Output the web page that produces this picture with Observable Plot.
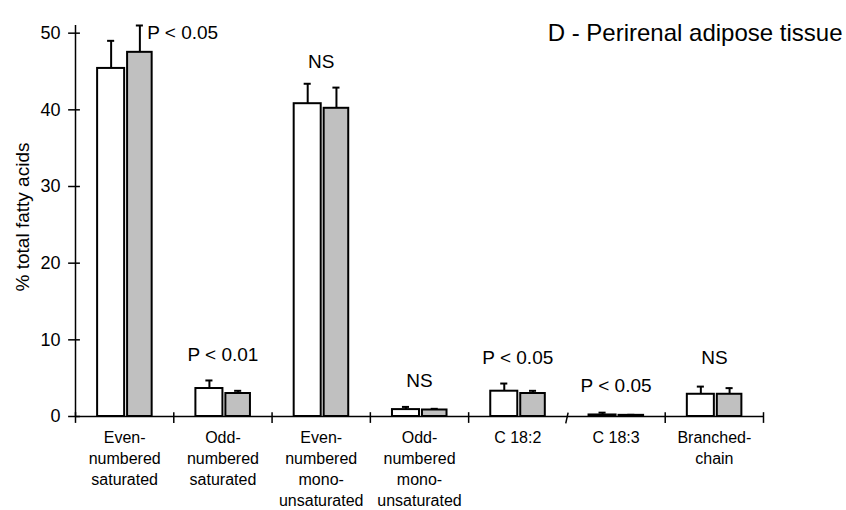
<!DOCTYPE html>
<html>
<head>
<meta charset="utf-8">
<script src="https://cdn.jsdelivr.net/npm/d3@7"></script>
<script src="https://cdn.jsdelivr.net/npm/@observablehq/plot@0.6"></script>
<style>
  html, body { margin: 0; padding: 0; background: #fff; }
  #chart svg { display: block; }
</style>
</head>
<body>
<div id="chart"></div>
<script>
const title = "D - Perirenal adipose tissue";
const yLabel = "% total fatty acids";
const categories = [
  "Even-\nnumbered\nsaturated",
  "Odd-\nnumbered\nsaturated",
  "Even-\nnumbered\nmono-\nunsaturated",
  "Odd-\nnumbered\nmono-\nunsaturated",
  "C 18:2",
  "C 18:3",
  "Branched-\nchain"
];
// white bars (group 1) and grey bars (group 2): mean and mean + error
const whiteMean = [45.4, 3.65, 40.8, 0.9, 3.3, 0.2, 2.9];
const whiteErr  = [49.0, 4.7, 43.4, 1.25, 4.3, 0.5, 3.9];
const greyMean  = [47.5, 3.0, 40.2, 0.85, 3.0, 0.15, 2.9];
const greyErr   = [51.0, 3.35, 42.9, 1.0, 3.35, 0.22, 3.7];
const significance = ["P < 0.05", "P < 0.01", "NS", "NS", "P < 0.05", "P < 0.05", "NS"];
const significanceY = [50.0, 8.0, 46.2, 4.7, 7.6, 4.0, 7.6];
const yTicks = [0, 10, 20, 30, 40, 50];
const boundaries = [0, 1, 2, 3, 4, 6, 7];
const brokenBoundary = [5];

const idx = d3.range(categories.length);
const W = [0.225, 0.5], G = [0.53, 0.78];
const cw = (W[0] + W[1]) / 2, cg = (G[0] + G[1]) / 2, cap = 0.036;

const chart = Plot.plot({
  width: 846,
  height: 510,
  marginLeft: 75,
  marginRight: 83,
  marginTop: 25,
  marginBottom: 94,
  style: { fontFamily: "'Liberation Sans', Arial, sans-serif", background: "#fff", color: "#000" },
  x: { domain: [0, 7], axis: null },
  y: { domain: [0, 51], axis: null },
  marks: [
    // y tick labels
    Plot.text(yTicks, { x: 0, y: d => d, text: d => String(d), textAnchor: "end", dx: -15, fontSize: 18 }),
    // y label
    Plot.text([yLabel], { frameAnchor: "left", text: d => d, textAnchor: "middle", dx: -53, dy: -4, rotate: -90, fontSize: 19 }),
    // bars
    Plot.rectY(idx, { x1: i => i + W[0], x2: i => i + W[1], y1: 0, y2: i => whiteMean[i], fill: "#fff", stroke: "#000", strokeWidth: 2 }),
    Plot.rectY(idx, { x1: i => i + G[0], x2: i => i + G[1], y1: 0, y2: i => greyMean[i], fill: "#c0c0c0", stroke: "#000", strokeWidth: 2 }),
    // error bars
    Plot.ruleX(idx, { x: i => i + cw, y1: i => whiteMean[i], y2: i => whiteErr[i], stroke: "#000", strokeWidth: 2 }),
    Plot.ruleY(idx, { y: i => whiteErr[i], x1: i => i + cw - cap, x2: i => i + cw + cap, stroke: "#000", strokeWidth: 2 }),
    Plot.ruleX(idx, { x: i => i + cg, y1: i => greyMean[i], y2: i => greyErr[i], stroke: "#000", strokeWidth: 2 }),
    Plot.ruleY(idx, { y: i => greyErr[i], x1: i => i + cg - cap, x2: i => i + cg + cap, stroke: "#000", strokeWidth: 2 }),
    // axes lines
    Plot.ruleX([0], { y1: 0, y2: 51, stroke: "#000", strokeWidth: 1.5 }),
    Plot.ruleY([0], { x1: 0, x2: 7, stroke: "#000", strokeWidth: 1.5 }),
    // y ticks crossing axis
    Plot.ruleY(yTicks, { y: d => d, x1: -0.07, x2: 0.05, stroke: "#000", strokeWidth: 1.5 }),
    // x boundary ticks
    Plot.ruleX(boundaries, { x: d => d, y1: -0.9, y2: 0.5, stroke: "#000", strokeWidth: 1.5 }),
    Plot.link(brokenBoundary, { x1: d => d - 0.012, y1: -0.9, x2: d => d + 0.012, y2: 0.5, stroke: "#000", strokeWidth: 1.5 }),
    // category labels
    Plot.text(categories, { x: (d, i) => i + 0.5, y: 0, text: d => d, lineAnchor: "top", dy: 12, fontSize: 16, lineHeight: 1.3 }),
    // significance labels (first one sits to the right of its bars)
    Plot.text(significance, { filter: (d, i) => i > 0, x: (d, i) => i + 0.5, y: (d, i) => significanceY[i], text: d => d, fontSize: 19 }),
    Plot.text(significance, { filter: (d, i) => i === 0, x: (d, i) => i + 0.5, y: (d, i) => significanceY[i], text: d => d, fontSize: 19, dx: 58 }),
    // title
    Plot.text([title], { frameAnchor: "top-right", text: d => d, textAnchor: "end", lineAnchor: "middle", dx: 79, dy: 8, fontSize: 24 })
  ]
});
document.getElementById("chart").append(chart);
</script>
</body>
</html>
